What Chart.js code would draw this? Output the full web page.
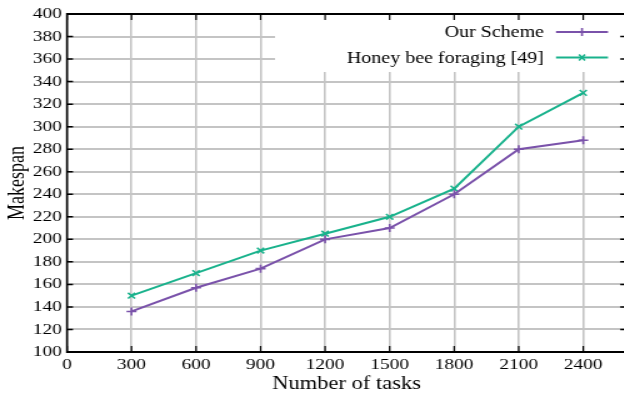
<!DOCTYPE html>
<html>
<head>
<meta charset="utf-8">
<script src="https://cdn.jsdelivr.net/npm/chart.js@4.4.1/dist/chart.umd.min.js"></script>
<style>
  html, body { margin: 0; padding: 0; background: #fff; overflow: hidden; width: 624px; height: 400px; }
  /* the figure is drawn at 512 px and widened to 640 px, like the wide-set original plot */
  #wrap { position: relative; width: 512px; height: 400px; transform: scaleX(1.25); transform-origin: 0 0; }
</style>
</head>
<body>
<div id="wrap"><canvas id="chart"></canvas></div>
<script>
// Makespan versus number of tasks
const tasks = [300, 600, 900, 1200, 1500, 1800, 2100, 2400];
const ourScheme = [136, 157, 174, 200, 210, 240, 280, 288];
const honeyBee = [150, 170, 190, 205, 220, 245, 300, 330];
const seriesNames = ['Our Scheme', 'Honey bee foraging [49]'];
const seriesColors = ['#7a52aa', '#19b28c'];

const SERIF = '"Liberation Serif", "Times New Roman", serif';
const SX = 1.25; // horizontal widening applied by the wrapper

function toPoints(xs, ys) { return xs.map((x, i) => ({ x: x, y: ys[i] })); }

// gnuplot-like frame: white key box, full border with inward tics, key entries
const framePlugin = {
  id: 'frame',
  beforeDatasetsDraw(chart) {
    const { ctx, chartArea: a } = chart;
    ctx.save();
    ctx.fillStyle = '#ffffff';
    ctx.fillRect(275 / SX, a.top, a.right - 275 / SX, 72 - a.top);
    ctx.restore();
  },
  afterDraw(chart) {
    const { ctx, chartArea: a, scales } = chart;
    ctx.save();
    ctx.strokeStyle = '#000';
    ctx.lineWidth = 1.5;
    const tl = 6;
    scales.x.ticks.forEach(t => {
      const px = scales.x.getPixelForValue(t.value);
      ctx.lineWidth = 1.5 / SX;
      ctx.beginPath();
      ctx.moveTo(px, a.bottom); ctx.lineTo(px, a.bottom - tl);
      ctx.moveTo(px, a.top); ctx.lineTo(px, a.top + tl);
      ctx.stroke();
    });
    scales.y.ticks.forEach(t => {
      const py = scales.y.getPixelForValue(t.value);
      ctx.lineWidth = 1.5;
      ctx.beginPath();
      ctx.moveTo(a.left, py); ctx.lineTo(a.left + tl / SX, py);
      ctx.moveTo(a.right, py); ctx.lineTo(a.right - tl / SX, py);
      ctx.stroke();
    });
    // border: horizontal edges 2px, vertical edges compensated for the widening
    ctx.lineWidth = 2;
    ctx.beginPath();
    ctx.moveTo(a.left, a.top); ctx.lineTo(a.right, a.top);
    ctx.moveTo(a.left, a.bottom); ctx.lineTo(a.right, a.bottom);
    ctx.stroke();
    ctx.lineWidth = 2 / SX;
    ctx.beginPath();
    ctx.moveTo(a.left, a.top - 1); ctx.lineTo(a.left, a.bottom + 1);
    ctx.moveTo(a.right, a.top - 1); ctx.lineTo(a.right, a.bottom + 1);
    ctx.stroke();

    // key
    const rows = [32, 57.5];
    const textRight = 544 / SX, sx0 = 556 / SX, sx1 = 608 / SX, mx = 582 / SX;
    ctx.font = '16px ' + SERIF;
    ctx.textAlign = 'right';
    ctx.textBaseline = 'middle';
    chart.data.datasets.forEach((ds, i) => {
      const y = rows[i];
      ctx.fillStyle = '#000';
      ctx.fillText(ds.label, textRight, y + 1);
      ctx.strokeStyle = ds.borderColor;
      ctx.lineWidth = 2;
      ctx.beginPath();
      ctx.moveTo(sx0, y); ctx.lineTo(sx1, y);
      ctx.stroke();
      const r = 4;
      ctx.lineWidth = 1.6;
      ctx.beginPath();
      if (ds.pointStyle === 'cross') {
        ctx.moveTo(mx - r / SX, y); ctx.lineTo(mx + r / SX, y);
        ctx.moveTo(mx, y - r); ctx.lineTo(mx, y + r);
      } else {
        const d = r * 0.75;
        ctx.moveTo(mx - d / SX, y - d); ctx.lineTo(mx + d / SX, y + d);
        ctx.moveTo(mx - d / SX, y + d); ctx.lineTo(mx + d / SX, y - d);
      }
      ctx.stroke();
    });
    ctx.restore();
  }
};

new Chart(document.getElementById('chart'), {
  type: 'line',
  data: {
    datasets: [
      {
        label: seriesNames[0],
        data: toPoints(tasks, ourScheme),
        borderColor: seriesColors[0],
        backgroundColor: seriesColors[0],
        borderWidth: 2,
        pointStyle: 'cross',
        pointRadius: 4,
        pointBorderWidth: 1.6,
        tension: 0,
        fill: false
      },
      {
        label: seriesNames[1],
        data: toPoints(tasks, honeyBee),
        borderColor: seriesColors[1],
        backgroundColor: seriesColors[1],
        borderWidth: 2,
        pointStyle: 'crossRot',
        pointRadius: 4,
        pointBorderWidth: 1.6,
        tension: 0,
        fill: false
      }
    ]
  },
  options: {
    responsive: true,
    maintainAspectRatio: false,
    animation: false,
    layout: { padding: { top: 14, right: 11, left: 0, bottom: 0 } },
    plugins: {
      legend: { display: false },
      tooltip: { enabled: false }
    },
    scales: {
      x: {
        type: 'linear',
        min: 0,
        max: 2600,
        afterFit(scale) { scale.height = 48; },
        ticks: {
          stepSize: 300,
          includeBounds: false,
          color: '#000',
          font: { family: SERIF, size: 15.5 },
          padding: 4,
          maxRotation: 0,
          callback: v => String(v)
        },
        grid: { color: '#c4c4c4', lineWidth: 1.6, drawTicks: false },
        border: { display: false },
        title: {
          display: true,
          text: 'Number of tasks',
          color: '#000',
          font: { family: SERIF, size: 18 },
          padding: { top: 0, bottom: 5 }
        }
      },
      y: {
        min: 100,
        max: 400,
        afterFit(scale) { scale.width = 53.6; },
        ticks: {
          stepSize: 20,
          color: '#000',
          font: { family: SERIF, size: 15.5 },
          padding: 4
        },
        grid: { color: '#c4c4c4', lineWidth: 2, drawTicks: false },
        border: { display: false },
        title: {
          display: true,
          text: 'Makespan',
          color: '#000',
          font: { family: SERIF, size: 18 },
          padding: { top: 3.6, bottom: 0 }
        }
      }
    }
  },
  plugins: [framePlugin]
});
</script>
</body>
</html>
